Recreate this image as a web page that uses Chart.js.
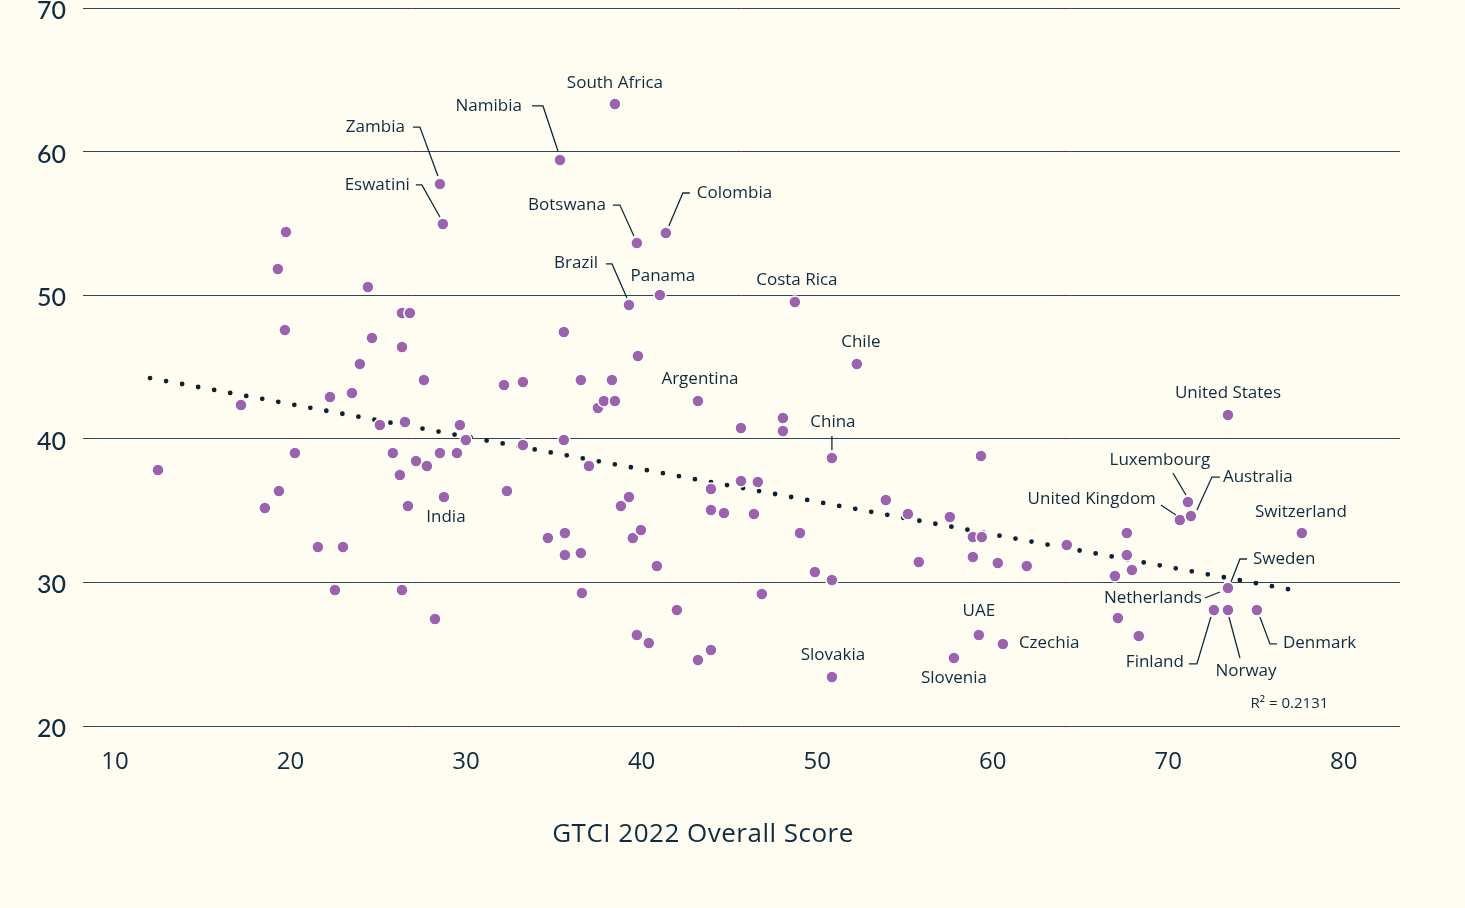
<!DOCTYPE html>
<html><head><meta charset="utf-8">
<script src="https://cdn.jsdelivr.net/npm/chart.js@4"></script>
<style>html,body{margin:0;padding:0;background:#fffdf2;}canvas{display:block}</style>
</head><body>
<canvas id="c" width="1465" height="908"></canvas>
<script>
// ---------------- DATA ----------------
const gtciScore = [12.45,17.18,18.54,19.28,19.34,19.74,19.68,20.25,21.56,22.25,22.53,22.99,23.5,23.95,24.41,24.64,25.09,25.83,26.23,26.35,26.8,26.35,26.35,26.52,26.69,27.15,27.6,27.77,28.23,28.51,28.68,28.51,28.74,29.48,29.65,29.99,32.16,32.33,33.24,33.24,34.66,35.35,35.57,35.57,35.63,35.63,36.54,36.54,36.6,37.0,37.51,37.85,38.31,38.48,38.48,38.82,39.28,39.28,39.5,39.73,39.79,39.73,39.96,40.41,40.87,41.04,41.38,42.01,43.21,43.21,43.95,43.95,43.95,44.69,45.66,45.66,46.4,46.62,46.85,48.05,48.05,48.73,49.02,49.87,50.84,50.84,50.84,52.26,53.91,55.17,55.79,57.56,57.79,58.87,58.87,59.21,59.33,59.38,60.29,60.58,61.94,64.22,66.96,67.13,67.64,67.64,67.93,68.32,70.66,71.12,71.29,72.6,73.4,73.4,73.4,73.4,75.05,77.61];
const outcome = [37.83,42.35,35.18,51.82,36.36,54.4,47.58,39.01,32.47,42.91,29.47,32.47,43.19,45.21,50.57,47.02,40.96,39.01,37.48,48.76,48.76,46.39,29.47,41.17,35.32,38.45,44.09,38.1,27.45,57.74,54.96,39.01,35.95,39.01,40.96,39.92,43.75,36.36,43.96,39.57,33.09,59.42,47.44,39.92,33.44,31.91,44.09,32.05,29.26,38.1,42.14,42.63,44.09,63.31,42.63,35.32,49.32,35.95,33.09,53.63,45.77,26.34,33.65,25.78,31.14,50.01,54.33,28.08,42.63,24.6,36.5,35.04,25.29,34.83,40.75,37.06,34.76,36.99,29.19,41.45,40.54,49.53,33.44,30.72,38.66,30.17,23.41,45.21,35.74,34.76,31.42,34.55,24.74,33.16,31.77,26.34,38.8,33.16,31.35,25.71,31.14,32.6,30.45,27.52,33.44,31.91,30.86,26.27,34.35,35.6,34.62,28.08,41.66,29.61,29.61,28.08,28.08,33.44];
const country = ['','','','','','','','','','','','','','','','','','','','','','','','','','','','','','Zambia','Eswatini','','India','','','','','','','','','Namibia','','','','','','','','','','','','South Africa','','','Brazil','','','Botswana','','','','','','Panama','Colombia','','Argentina','','','','','','','','','','','','','Costa Rica','','','China','','Slovakia','Chile','','','','','Slovenia','','','UAE','','','','Czechia','','','','','','','','','United Kingdom','Luxembourg','Australia','Finland','United States','Sweden','Netherlands','Norway','Denmark','Switzerland'];
const trendX = [12.0, 77.7];
const trendY = [44.23, 29.33];
const xTickValues = [10,20,30,40,50,60,70,80];
const yTickValues = [20,30,40,50,60,70];
const r2Text = 'R² = 0.2131';
const xTitle = 'GTCI 2022 Overall Score';

// ---------------- LAYOUT / STYLE ----------------
const ink = '#0f2b3d';
const bg = '#fffdf2';
const labelLayout = {
  'South Africa': {dx:0, dy:-21, align:'center'},
  'Namibia': {dx:-38, dy:-54, align:'right', leader:[[-28,-54],[-17,-54],[-2,-9]]},
  'Zambia': {dx:-35, dy:-57, align:'right', leader:[[-27,-57],[-20,-57],[-2,-8]]},
  'Eswatini': {dx:-33, dy:-39, align:'right', leader:[[-27,-39],[-21,-39],[-3,-7]]},
  'Botswana': {dx:-31, dy:-38, align:'right', leader:[[-24,-38],[-17,-38],[-3,-7]]},
  'Colombia': {dx:31, dy:-40, align:'left', leader:[[24,-40],[17,-40],[3,-7]]},
  'Brazil': {dx:-31, dy:-42, align:'right', leader:[[-23,-41],[-17,-41],[-2,-7]]},
  'Panama': {dx:3, dy:-19, align:'center'},
  'Costa Rica': {dx:2, dy:-22, align:'center'},
  'Chile': {dx:4, dy:-22, align:'center'},
  'Argentina': {dx:2, dy:-22, align:'center'},
  'China': {dx:1, dy:-36, align:'center', leader:[[0,-22],[0,-8]]},
  'India': {dx:2, dy:20, align:'center'},
  'United States': {dx:0, dy:-22, align:'center'},
  'Luxembourg': {dx:-28, dy:-42, align:'center', leader:[[-15,-29],[-2,-7]]},
  'Australia': {dx:32, dy:-39, align:'left', leader:[[29,-39],[21,-39],[6,-6]]},
  'United Kingdom': {dx:-24, dy:-21, align:'right', leader:[[-19,-15],[-4,-5]]},
  'Switzerland': {dx:-1, dy:-21, align:'center'},
  'Sweden': {dx:25, dy:-29, align:'left', leader:[[19,-29],[12,-29],[3,-6]]},
  'Netherlands': {dx:-26, dy:10, align:'right', leader:[[-23,10],[-8,4]]},
  'Finland': {dx:-30, dy:52, align:'right', leader:[[-25,54],[-17,54],[-3,7]]},
  'Norway': {dx:18, dy:61, align:'center', leader:[[12,48],[1,7]]},
  'Denmark': {dx:26, dy:33, align:'left', leader:[[20,34],[13,34],[3,7]]},
  'UAE': {dx:0, dy:-24, align:'center'},
  'Czechia': {dx:16, dy:-1, align:'left'},
  'Slovenia': {dx:0, dy:20, align:'center'},
  'Slovakia': {dx:1, dy:-22, align:'center'}
};

const annot = {
  id: 'annot',
  beforeDraw(chart) {
    const c = chart.ctx; c.save(); c.fillStyle = bg; c.fillRect(0, 0, chart.width, chart.height); c.restore();
  },
  afterDatasetsDraw(chart) {
    const ctx = chart.ctx, xs = chart.scales.x, ys = chart.scales.y;
    ctx.save();
    ctx.font = '17px "Open Sans"';
    ctx.fillStyle = ink; ctx.strokeStyle = ink; ctx.lineWidth = 1.3;
    ctx.textBaseline = 'middle';
    country.forEach((name, i) => {
      if (!name) return;
      const L = labelLayout[name]; if (!L) return;
      const px = xs.getPixelForValue(gtciScore[i]), py = ys.getPixelForValue(outcome[i]);
      if (L.leader) {
        ctx.beginPath();
        L.leader.forEach(([a, b], k) => k ? ctx.lineTo(px + a, py + b) : ctx.moveTo(px + a, py + b));
        ctx.stroke();
      }
      ctx.textAlign = L.align;
      ctx.fillText(name, px + L.dx, py + L.dy);
    });
    // R2 text, placed relative to trend end
    const ex = xs.getPixelForValue(trendX[1]), ey = ys.getPixelForValue(trendY[1]);
    ctx.font = '15px "Open Sans"'; ctx.textAlign = 'center';
    ctx.fillText(r2Text, ex - 14, ey + 112);
    // x title
    ctx.font = '26px "Open Sans"'; ctx.textAlign = 'center';
    ctx.letterSpacing = '0.5px';
    ctx.fillText(xTitle, 703, 835);
    ctx.restore();
  }
};

new Chart(document.getElementById('c'), {
  type: 'scatter',
  data: {
    datasets: [
      {
        label: 'Countries',
        data: gtciScore.map((x, i) => ({x, y: outcome[i]})),
        backgroundColor: '#9a63ab',
        borderColor: '#ffffff',
        borderWidth: 1.5,
        pointRadius: 6,
        pointHoverRadius: 6,
        order: 0
      },
      {
        type: 'line',
        label: 'Trend',
        data: trendX.map((x, i) => ({x, y: trendY[i]})),
        borderColor: '#0b2231',
        borderWidth: 4.8,
        borderDash: [0, 16.3],
        borderCapStyle: 'round',
        pointRadius: 0,
        fill: false,
        order: 1
      }
    ]
  },
  options: {
    responsive: false,
    devicePixelRatio: 1,
    animation: false,
    events: [],
    layout: {padding: {top: 8, right: 65, left: 0, bottom: 0}},
    plugins: {legend: {display: false}, tooltip: {enabled: false}},
    scales: {
      x: {
        type: 'linear', min: 8.18, max: 83.2,
        afterBuildTicks: s => { s.ticks = xTickValues.map(v => ({value: v})); },
        afterFit: s => { s.height = 182; s.paddingLeft = 0; s.paddingRight = 0; },
        grid: {display: false, drawTicks: false},
        border: {display: false},
        ticks: {padding: 22, color: ink, font: {family: 'Open Sans', size: 24}}
      },
      y: {
        type: 'linear', min: 20, max: 70,
        afterBuildTicks: s => { s.ticks = yTickValues.map(v => ({value: v})); },
        afterFit: s => { s.width = 83; s.paddingTop = 0; s.paddingBottom = 0; },
        grid: {color: '#2d4655', lineWidth: 1, drawTicks: false},
        border: {display: false},
        ticks: {padding: 17, color: ink, labelOffset: 3, font: {family: 'Lato', size: 25, weight: '500'}}
      }
    }
  },
  plugins: [annot]
});
</script>
</body></html>
